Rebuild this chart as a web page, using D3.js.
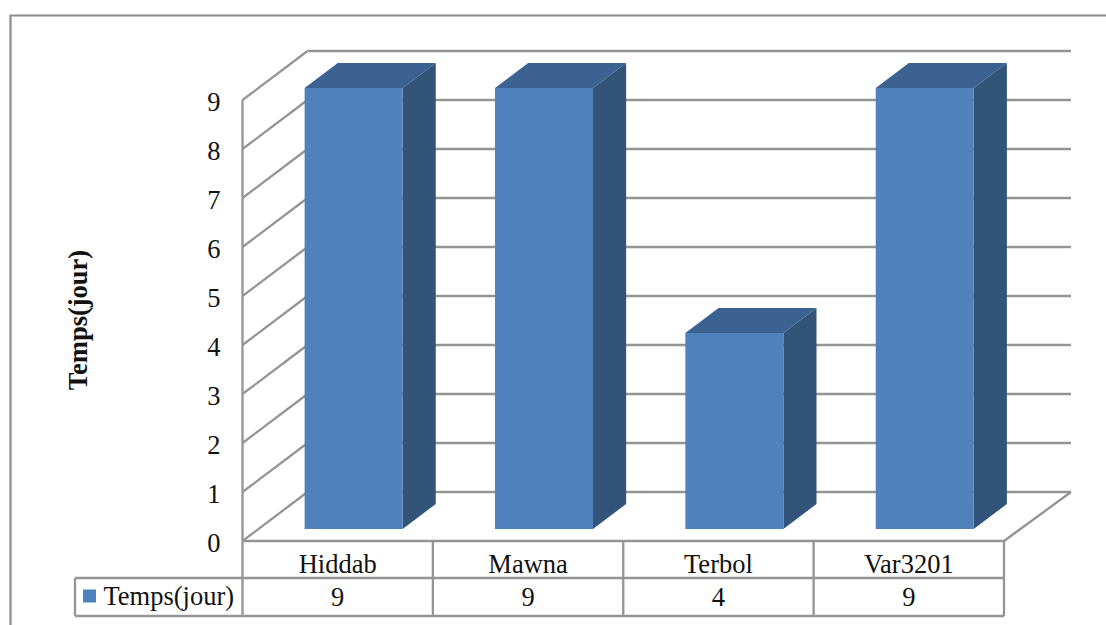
<!DOCTYPE html>
<html><head><meta charset="utf-8">
<script src="https://cdn.jsdelivr.net/npm/d3@7"></script>
<style>html,body{margin:0;padding:0;background:#fff}svg{display:block}
text{font-family:"Liberation Serif",serif;fill:#111}</style></head>
<body><svg id="c" width="1106" height="625"></svg>
<script>
const categories = ["Hiddab","Mawna","Terbol","Var3201"];
const values = [9,9,4,9];
const seriesName = "Temps(jour)";
const ticks = [0,1,2,3,4,5,6,7,8,9];

const svg = d3.select("#c");
const lineCol = "#949494";
const fs = 26.5;
const x = d3.scaleBand().domain(categories).range([242.5,1004]);
const y = d3.scaleLinear().domain([0,9]).range([541,100]);
const depth = d3.scaleLinear().domain([0,1]).range([0,65]);
const lift = d3.scaleLinear().domain([0,1]).range([0,49]);
const z0 = 0.245, z1 = 0.755, wallRight = 1071;

// frame
svg.append("path").attr("d","M10.5,625V15.5H1106").attr("fill","none").attr("stroke","#8a8a8a").attr("stroke-width",2.2);

// walls
const g = svg.append("g").attr("stroke",lineCol).attr("stroke-width",2.3).attr("fill","none");
ticks.forEach(t=>{
  g.append("line").attr("x1",x.range()[0]).attr("y1",y(t)).attr("x2",x.range()[0]+depth(1)).attr("y2",y(t)-lift(1));
  g.append("line").attr("x1",x.range()[0]+depth(1)).attr("y1",y(t)-lift(1)).attr("x2",wallRight).attr("y2",y(t)-lift(1));
});
g.append("line").attr("x1",x.range()[1]).attr("y1",y(0)).attr("x2",wallRight).attr("y2",y(0)-lift(1));

// bars
const bars = svg.append("g").selectAll("g").data(categories.map((c,i)=>({c,v:values[i]}))).join("g");
const bw = 98;
const fx = d=>x(d.c)+x.bandwidth()/2-bw/2+depth(z0);
bars.each(function(d){
  const s=d3.select(this), l=fx(d), r=l+bw, dx=depth(z1-z0), dy=lift(z1-z0);
  const t=y(d.v)-lift(z0), b=y(0)-lift(z0);
  s.append("path").attr("fill","#3C6291").attr("d",`M${l},${t}L${l+dx},${t-dy}H${r+dx}L${r},${t}Z`);
  s.append("path").attr("fill","#325479").attr("d",`M${r},${t}L${r+dx},${t-dy}V${b-dy}L${r},${b}Z`);
  s.append("rect").attr("x",l).attr("y",t).attr("width",bw).attr("height",b-t).attr("fill","#4F81BD");
});

// y axis labels
svg.append("g").selectAll("text").data(ticks).join("text")
  .attr("x",220.5).attr("y",d=>y(d)+10.5).attr("text-anchor","end").attr("font-size",fs).text(d=>d);

// axis title
svg.append("text").attr("transform","translate(87,320) rotate(-90)").attr("text-anchor","middle")
  .attr("font-size",fs).attr("font-weight","bold").text(seriesName);

// data table
const rowA = 541, rowB = 578, rowC = 616, legendLeft = 75;
const t = svg.append("g").attr("stroke",lineCol).attr("stroke-width",2.3).attr("fill","none");
t.append("line").attr("x1",x.range()[0]).attr("y1",y(9)).attr("x2",x.range()[0]).attr("y2",rowC);
t.append("line").attr("x1",x.range()[0]).attr("y1",rowA).attr("x2",x.range()[1]).attr("y2",rowA);
t.append("line").attr("x1",legendLeft).attr("y1",rowB).attr("x2",x.range()[1]).attr("y2",rowB);
t.append("line").attr("x1",legendLeft).attr("y1",rowC).attr("x2",x.range()[1]).attr("y2",rowC);
t.append("line").attr("x1",legendLeft).attr("y1",rowB).attr("x2",legendLeft).attr("y2",rowC);
categories.forEach(c=>t.append("line").attr("x1",x(c)+x.bandwidth()).attr("y1",rowA).attr("x2",x(c)+x.bandwidth()).attr("y2",rowC));

svg.append("g").selectAll("text").data(categories).join("text")
  .attr("x",c=>x(c)+x.bandwidth()/2).attr("y",573).attr("text-anchor","middle").attr("font-size",fs).text(c=>c);
svg.append("g").selectAll("text").data(values).join("text")
  .attr("x",(v,i)=>x(categories[i])+x.bandwidth()/2).attr("y",606).attr("text-anchor","middle").attr("font-size",fs).text(v=>v);
svg.append("rect").attr("x",83).attr("y",589.5).attr("width",13).attr("height",13).attr("fill","#4F81BD");
svg.append("text").attr("x",103.5).attr("y",605).attr("font-size",fs).text(seriesName);
</script></body></html>
